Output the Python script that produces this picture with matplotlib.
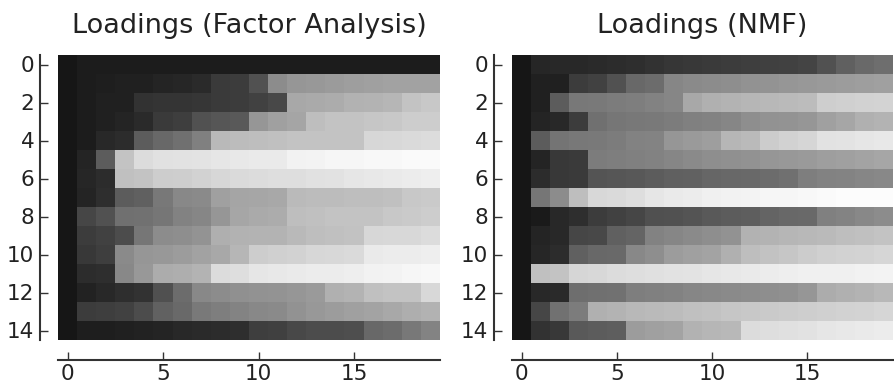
import numpy as np
import matplotlib
matplotlib.use('Agg')
import matplotlib.pyplot as plt

# grey levels (0-255), 15 components x 20 features
fa_loadings = [
    [22, 28, 28, 28, 28, 28, 28, 28, 28, 28, 28, 28, 28, 28, 28, 28, 28, 28, 28, 28],
    [22, 28, 30, 32, 33, 36, 38, 42, 58, 60, 82, 140, 150, 152, 155, 158, 160, 162, 162, 162],
    [22, 28, 32, 32, 50, 52, 52, 54, 58, 60, 66, 72, 168, 170, 172, 178, 180, 182, 196, 200],
    [22, 28, 32, 36, 42, 58, 62, 82, 86, 90, 150, 160, 165, 190, 195, 196, 198, 200, 205, 205],
    [22, 28, 40, 44, 92, 104, 112, 128, 185, 188, 190, 192, 195, 196, 196, 196, 215, 216, 218, 220],
    [22, 36, 92, 196, 220, 225, 226, 228, 230, 232, 234, 234, 242, 244, 246, 246, 248, 248, 250, 250],
    [22, 38, 44, 192, 196, 205, 206, 210, 215, 218, 220, 222, 222, 225, 226, 230, 232, 234, 236, 238],
    [22, 36, 46, 92, 96, 120, 136, 138, 160, 165, 166, 168, 186, 188, 188, 190, 190, 192, 200, 202],
    [22, 70, 82, 112, 114, 118, 130, 134, 150, 166, 170, 172, 190, 192, 196, 196, 196, 200, 202, 205],
    [22, 60, 66, 76, 118, 140, 142, 148, 175, 178, 180, 180, 185, 190, 192, 194, 215, 216, 216, 220],
    [22, 56, 62, 138, 150, 152, 156, 162, 168, 182, 205, 208, 210, 215, 216, 218, 234, 236, 236, 238],
    [22, 44, 46, 136, 152, 172, 174, 180, 220, 222, 230, 232, 234, 236, 236, 238, 242, 244, 246, 248],
    [22, 34, 40, 46, 50, 80, 108, 136, 140, 144, 146, 148, 150, 154, 176, 180, 192, 196, 196, 216],
    [22, 60, 62, 66, 76, 98, 106, 122, 126, 132, 136, 138, 146, 152, 156, 160, 164, 168, 174, 178],
    [22, 30, 30, 32, 34, 36, 40, 42, 44, 46, 62, 64, 72, 76, 76, 78, 104, 108, 120, 132],
]

nmf_loadings = [
    [22, 38, 40, 40, 42, 44, 46, 50, 54, 56, 58, 60, 62, 64, 66, 68, 82, 96, 106, 110],
    [22, 32, 32, 60, 66, 82, 104, 108, 134, 138, 140, 142, 146, 148, 150, 152, 154, 156, 158, 160],
    [22, 32, 92, 120, 122, 124, 126, 130, 134, 168, 176, 180, 182, 184, 186, 188, 206, 208, 210, 212],
    [22, 36, 40, 60, 112, 118, 120, 122, 124, 128, 130, 134, 142, 146, 148, 150, 160, 166, 176, 180],
    [22, 92, 116, 120, 122, 124, 130, 132, 150, 154, 158, 182, 186, 204, 210, 214, 226, 228, 230, 232],
    [22, 36, 56, 58, 124, 126, 128, 130, 134, 138, 142, 144, 146, 150, 152, 154, 158, 160, 164, 166],
    [22, 44, 56, 58, 84, 86, 88, 92, 96, 98, 102, 104, 106, 108, 112, 126, 130, 132, 134, 136],
    [22, 118, 140, 190, 216, 218, 222, 230, 234, 236, 240, 242, 244, 246, 246, 248, 250, 252, 252, 252],
    [22, 26, 40, 46, 60, 66, 70, 80, 82, 84, 90, 92, 94, 100, 104, 106, 128, 132, 136, 140],
    [22, 36, 40, 70, 72, 96, 100, 130, 134, 138, 142, 146, 178, 180, 182, 184, 186, 190, 192, 196],
    [22, 38, 44, 96, 104, 106, 136, 142, 156, 160, 164, 176, 190, 194, 198, 204, 208, 210, 212, 214],
    [22, 192, 196, 214, 216, 220, 222, 224, 226, 228, 230, 232, 234, 236, 238, 240, 240, 240, 242, 244],
    [22, 40, 42, 110, 112, 114, 126, 128, 130, 134, 136, 138, 140, 142, 144, 150, 172, 176, 180, 184],
    [22, 70, 114, 124, 176, 180, 184, 186, 188, 192, 194, 198, 200, 202, 204, 206, 208, 210, 212, 214],
    [22, 50, 56, 90, 92, 94, 156, 160, 164, 178, 182, 184, 220, 222, 224, 226, 230, 232, 234, 236],
]

titles = ['Loadings (Factor Analysis)', 'Loadings (NMF)']
panels = [fa_loadings, nmf_loadings]
xticks = [0, 5, 10, 15]
yticks = [0, 2, 4, 6, 8, 10, 12, 14]

fig = plt.figure(figsize=(8.94, 3.85), dpi=100)
positions = [[58 / 894, 45 / 385, 382 / 894, 285 / 385],
             [512 / 894, 45 / 385, 381 / 894, 285 / 385]]

for pos, data, title in zip(positions, panels, titles):
    ax = fig.add_axes(pos)
    ax.imshow(np.array(data), cmap='gray', vmin=0, vmax=255,
              aspect='auto', interpolation='nearest')
    ax.set_title(title, fontsize=19.5, pad=16, color='#222222')
    ax.set_xticks(xticks)
    ax.set_yticks(yticks)
    ax.tick_params(direction='in', length=6, width=1.0, labelsize=15.5,
                   color='#333333', labelcolor='#222222', pad=3)
    ax.tick_params(axis='y', pad=4)
    for side in ['top', 'right']:
        ax.spines[side].set_visible(False)
    ax.spines['left'].set_position(('outward', 13))
    ax.spines['bottom'].set_position(('outward', 14.5))
    for side in ['left', 'bottom']:
        ax.spines[side].set_linewidth(1.5)
        ax.spines[side].set_color('#333333')

fig.savefig('out.png', dpi=100)
